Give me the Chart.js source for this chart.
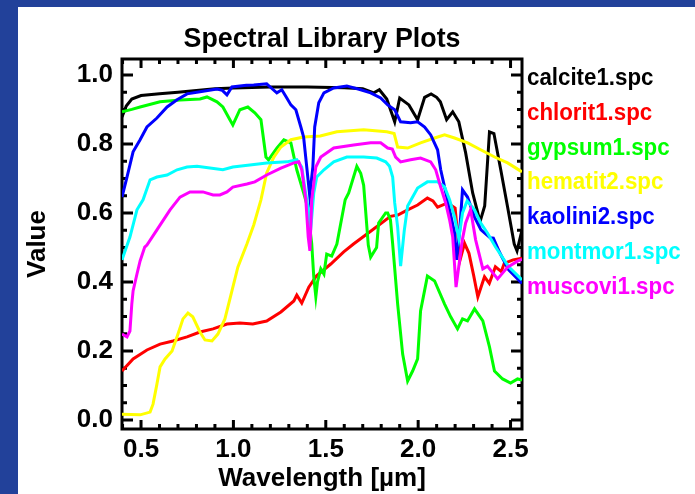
<!DOCTYPE html>
<html>
<head>
<meta charset="utf-8">
<script src="https://cdn.jsdelivr.net/npm/chart.js@4/dist/chart.umd.min.js"></script>
<style>
  html, body { margin: 0; padding: 0; background: #22419a; }
  canvas { display: block; }
</style>
</head>
<body>
<canvas id="specChart" width="695" height="494"></canvas>
<script>
// spectra: [wavelength um, reflectance]
const calcite1 = [
  [0.397,0.878],[0.42,0.91],[0.45,0.93],[0.5,0.94],[0.6,0.945],[0.7,0.95],[0.8,0.955],
  [0.9,0.96],[1.0,0.962],[1.2,0.965],[1.4,0.965],[1.6,0.963],[1.7,0.96],[1.76,0.948],
  [1.79,0.957],[1.83,0.93],[1.873,0.864],[1.9,0.933],[1.95,0.913],[1.997,0.87],
  [2.035,0.935],[2.07,0.945],[2.1,0.935],[2.12,0.922],[2.154,0.87],[2.187,0.893],
  [2.22,0.864],[2.257,0.774],[2.295,0.658],[2.335,0.575],[2.36,0.62],[2.386,0.835],
  [2.41,0.83],[2.447,0.725],[2.484,0.617],[2.52,0.51],[2.535,0.49],[2.562,0.55]
];
const chlorit1 = [
  [0.397,0.142],[0.457,0.177],[0.532,0.203],[0.603,0.22],[0.673,0.229],[0.749,0.241],
  [0.819,0.255],[0.89,0.264],[0.965,0.278],[1.035,0.281],[1.105,0.278],[1.18,0.287],
  [1.257,0.313],[1.327,0.345],[1.343,0.362],[1.37,0.339],[1.408,0.385],[1.45,0.418],
  [1.527,0.452],[1.597,0.487],[1.65,0.51],[1.75,0.55],[1.85,0.59],[1.89,0.594],
  [1.943,0.609],[1.997,0.623],[2.05,0.643],[2.08,0.635],[2.105,0.617],[2.16,0.629],
  [2.2,0.614],[2.227,0.464],[2.251,0.512],[2.275,0.483],[2.3,0.42],[2.323,0.357],
  [2.359,0.415],[2.385,0.396],[2.418,0.444],[2.45,0.43],[2.466,0.454],[2.514,0.464],
  [2.562,0.469]
];
const gypsum1 = [
  [0.397,0.893],[0.45,0.9],[0.495,0.907],[0.603,0.922],[0.711,0.927],[0.819,0.93],
  [0.857,0.936],[0.911,0.922],[0.943,0.907],[0.981,0.87],[0.997,0.855],[1.035,0.899],
  [1.078,0.907],[1.116,0.89],[1.149,0.87],[1.176,0.762],[1.19,0.754],[1.235,0.788],
  [1.273,0.812],[1.311,0.803],[1.343,0.725],[1.38,0.658],[1.4,0.62],[1.424,0.51],
  [1.435,0.414],[1.446,0.357],[1.455,0.4],[1.473,0.438],[1.49,0.423],[1.505,0.481],
  [1.532,0.475],[1.56,0.51],[1.605,0.638],[1.624,0.658],[1.668,0.735],[1.689,0.715],
  [1.705,0.68],[1.73,0.507],[1.743,0.472],[1.775,0.5],[1.786,0.571],[1.824,0.6],
  [1.835,0.6],[1.85,0.58],[1.862,0.51],[1.889,0.336],[1.916,0.191],[1.943,0.113],
  [1.97,0.142],[1.997,0.177],[2.013,0.316],[2.05,0.417],[2.089,0.403],[2.143,0.336],
  [2.176,0.299],[2.213,0.264],[2.24,0.293],[2.267,0.287],[2.305,0.322],[2.35,0.287],
  [2.386,0.212],[2.413,0.142],[2.457,0.119],[2.5,0.107],[2.538,0.119],[2.562,0.116]
];
const hematit2 = [
  [0.397,0.017],[0.495,0.015],[0.549,0.023],[0.565,0.046],[0.586,0.104],[0.603,0.154],
  [0.63,0.177],[0.668,0.2],[0.7,0.249],[0.727,0.293],[0.754,0.31],[0.78,0.299],
  [0.819,0.255],[0.846,0.232],[0.884,0.229],[0.916,0.249],[0.954,0.293],[0.992,0.374],
  [1.024,0.443],[1.073,0.51],[1.11,0.565],[1.149,0.638],[1.18,0.716],[1.219,0.762],
  [1.257,0.791],[1.311,0.812],[1.38,0.82],[1.47,0.823],[1.56,0.835],[1.705,0.841],
  [1.83,0.835],[1.87,0.83],[1.889,0.791],[1.943,0.788],[2.013,0.803],[2.089,0.817],
  [2.143,0.826],[2.197,0.817],[2.268,0.803],[2.338,0.783],[2.414,0.762],[2.484,0.745],
  [2.562,0.719]
];
const kaolini2 = [
  [0.397,0.646],[0.424,0.704],[0.457,0.777],[0.495,0.812],[0.532,0.849],[0.586,0.875],
  [0.641,0.907],[0.695,0.928],[0.749,0.945],[0.819,0.951],[0.911,0.959],[0.94,0.955],
  [0.965,0.942],[0.992,0.965],[1.07,0.97],[1.11,0.971],[1.18,0.974],[1.205,0.962],
  [1.235,0.948],[1.262,0.957],[1.289,0.933],[1.311,0.913],[1.338,0.899],[1.365,0.849],
  [1.38,0.82],[1.397,0.733],[1.413,0.65],[1.43,0.733],[1.44,0.849],[1.462,0.919],
  [1.49,0.948],[1.543,0.962],[1.614,0.968],[1.689,0.957],[1.743,0.948],[1.797,0.933],
  [1.835,0.913],[1.873,0.899],[1.905,0.864],[1.959,0.861],[1.997,0.864],[2.035,0.849],
  [2.068,0.826],[2.105,0.783],[2.122,0.725],[2.143,0.675],[2.17,0.609],[2.197,0.542],
  [2.208,0.464],[2.225,0.55],[2.24,0.667],[2.267,0.646],[2.305,0.588],[2.34,0.551],
  [2.39,0.528],[2.407,0.527],[2.443,0.483],[2.49,0.435],[2.562,0.396]
];
const montmor1 = [
  [0.397,0.464],[0.44,0.53],[0.478,0.609],[0.511,0.638],[0.549,0.696],[0.586,0.704],
  [0.641,0.71],[0.695,0.725],[0.749,0.733],[0.803,0.735],[0.873,0.73],[0.943,0.725],
  [0.997,0.733],[1.089,0.739],[1.18,0.745],[1.289,0.748],[1.343,0.754],[1.37,0.733],
  [1.39,0.661],[1.408,0.6],[1.418,0.55],[1.435,0.658],[1.451,0.704],[1.49,0.725],
  [1.543,0.748],[1.614,0.762],[1.705,0.762],[1.776,0.759],[1.824,0.748],[1.845,0.735],
  [1.862,0.704],[1.873,0.629],[1.889,0.559],[1.905,0.446],[1.925,0.55],[1.943,0.62],
  [1.997,0.672],[2.05,0.69],[2.105,0.69],[2.143,0.675],[2.17,0.638],[2.197,0.588],
  [2.22,0.525],[2.24,0.6],[2.265,0.635],[2.305,0.609],[2.338,0.571],[2.375,0.542],
  [2.418,0.502],[2.49,0.444],[2.562,0.406]
];
const muscovi1 = [
  [0.397,0.249],[0.424,0.241],[0.44,0.258],[0.45,0.336],[0.457,0.374],[0.478,0.423],
  [0.495,0.461],[0.52,0.501],[0.532,0.507],[0.586,0.551],[0.657,0.609],[0.711,0.646],
  [0.765,0.661],[0.835,0.661],[0.89,0.652],[0.927,0.652],[0.965,0.661],[0.997,0.675],
  [1.073,0.684],[1.116,0.69],[1.18,0.71],[1.257,0.73],[1.327,0.745],[1.354,0.748],
  [1.37,0.725],[1.392,0.638],[1.405,0.53],[1.414,0.49],[1.424,0.638],[1.446,0.733],
  [1.473,0.762],[1.543,0.788],[1.651,0.797],[1.743,0.803],[1.797,0.803],[1.835,0.788],
  [1.86,0.785],[1.878,0.762],[1.905,0.748],[1.959,0.754],[2.013,0.759],[2.068,0.748],
  [2.095,0.725],[2.122,0.675],[2.149,0.629],[2.17,0.58],[2.187,0.53],[2.205,0.385],
  [2.239,0.522],[2.257,0.571],[2.284,0.609],[2.311,0.522],[2.35,0.438],[2.375,0.446],
  [2.43,0.409],[2.484,0.443],[2.54,0.461],[2.562,0.465]
];

const seriesNames = ['calcite1.spc', 'chlorit1.spc', 'gypsum1.spc', 'hematit2.spc',
                     'kaolini2.spc', 'montmor1.spc', 'muscovi1.spc'];
const seriesData = [calcite1, chlorit1, gypsum1, hematit2, kaolini2, montmor1, muscovi1];
const seriesColors = ['#000000', '#ff0000', '#00ff00', '#ffff00', '#0000ff', '#00ffff', '#ff00ff'];

const xTickValues = [0.5, 1.0, 1.5, 2.0, 2.5];
const yTickValues = [0.0, 0.2, 0.4, 0.6, 0.8, 1.0];

const FONT = '"Liberation Sans", Arial, Helvetica, sans-serif';

// text squeezed a little sideways, like the IDL hardcopy
function narrowText(ctx, text, x, y, sx) {
  ctx.save();
  ctx.translate(x, y);
  ctx.scale(sx, 1);
  ctx.fillText(text, 0, 0);
  ctx.restore();
}

// blue slide background + white panel, title, legend, IDL style box with inward ticks
const idlFrame = {
  id: 'idlFrame',
  beforeDraw(chart) {
    const ctx = chart.ctx;
    ctx.save();
    ctx.fillStyle = '#22419a';
    ctx.fillRect(0, 0, chart.width, chart.height);
    ctx.fillStyle = '#ffffff';
    ctx.fillRect(18, 7, chart.width - 18, chart.height - 7);
    ctx.restore();
  },
  beforeDatasetsDraw(chart) {
    const { ctx, chartArea: a, scales } = chart;
    const xs = scales.x, ys = scales.y;
    ctx.save();
    ctx.strokeStyle = '#000';
    ctx.lineWidth = 3;
    ctx.strokeRect(a.left, a.top, a.right - a.left, a.bottom - a.top);

    ctx.beginPath();
    // x ticks, bottom and top
    for (let i = 4; i <= 25; i++) {
      const px = xs.getPixelForValue(i / 10);
      const len = (i % 5 === 0) ? 9 : 5;
      ctx.moveTo(px, a.bottom); ctx.lineTo(px, a.bottom - len);
      ctx.moveTo(px, a.top); ctx.lineTo(px, a.top + len);
    }
    // y ticks, left and right
    for (let i = 0; i <= 20; i++) {
      const py = ys.getPixelForValue(i / 20);
      const len = (i % 4 === 0) ? 11 : 5;
      ctx.moveTo(a.left, py); ctx.lineTo(a.left + len, py);
      ctx.moveTo(a.right, py); ctx.lineTo(a.right - len, py);
    }
    ctx.stroke();
    ctx.restore();
  },
  afterDraw(chart) {
    const { ctx, chartArea: a } = chart;
    ctx.save();
    ctx.fillStyle = '#000';
    ctx.textAlign = 'center';
    ctx.textBaseline = 'middle';
    ctx.font = 'bold 28.5px ' + FONT;
    narrowText(ctx, 'Spectral Library Plots', (a.left + a.right) / 2, 39, 0.94);

    ctx.textAlign = 'left';
    ctx.textBaseline = 'alphabetic';
    ctx.font = 'bold 23px ' + FONT;
    seriesNames.forEach((name, i) => {
      ctx.fillStyle = seriesColors[i];
      narrowText(ctx, name, a.right + 5, 85 + i * 34.8, 0.97);
    });
    ctx.restore();
  }
};

const datasets = seriesData.map((pts, i) => ({
  label: seriesNames[i],
  data: pts.map(p => ({ x: p[0], y: p[1] })),
  borderColor: seriesColors[i],
  backgroundColor: seriesColors[i],
  borderWidth: 3,
  pointRadius: 0,
  tension: 0,
  fill: false,
  order: seriesData.length - i
}));

new Chart(document.getElementById('specChart'), {
  type: 'line',
  data: { datasets },
  plugins: [idlFrame],
  options: {
    responsive: false,
    animation: false,
    events: [],
    layout: { padding: { left: 0, top: 59, right: 173, bottom: 0 } },
    plugins: { legend: { display: false }, title: { display: false }, tooltip: { enabled: false } },
    scales: {
      x: {
        type: 'linear',
        min: 0.397,
        max: 2.562,
        afterBuildTicks: (axis) => { axis.ticks = xTickValues.map(v => ({ value: v })); },
        afterFit: (s) => { s.height = 65; s.paddingLeft = 0; s.paddingRight = 0; },
        grid: { display: false, drawTicks: false },
        border: { display: false },
        ticks: {
          color: '#000',
          padding: 5,
          maxRotation: 0,
          font: { family: FONT, size: 26, weight: 'bold' },
          callback: (v) => Number(v).toFixed(1)
        },
        title: {
          display: true,
          text: 'Wavelength [\u00b5m]',
          color: '#000',
          padding: { top: 1, bottom: 0 },
          font: { family: FONT, size: 26, weight: 'bold' }
        }
      },
      y: {
        type: 'linear',
        min: -0.026,
        max: 1.046,
        afterBuildTicks: (axis) => { axis.ticks = yTickValues.map(v => ({ value: v })); },
        afterFit: (s) => { s.width = 122; s.paddingTop = 0; s.paddingBottom = 0; },
        grid: { display: false, drawTicks: false },
        border: { display: false },
        ticks: {
          color: '#000',
          padding: 9,
          font: { family: FONT, size: 26, weight: 'bold' },
          callback: (v) => Number(v).toFixed(1)
        },
        title: {
          display: true,
          text: 'Value',
          color: '#000',
          padding: { top: 22, bottom: 0 },
          font: { family: FONT, size: 26, weight: 'bold' }
        }
      }
    }
  }
});
</script>
</body>
</html>
